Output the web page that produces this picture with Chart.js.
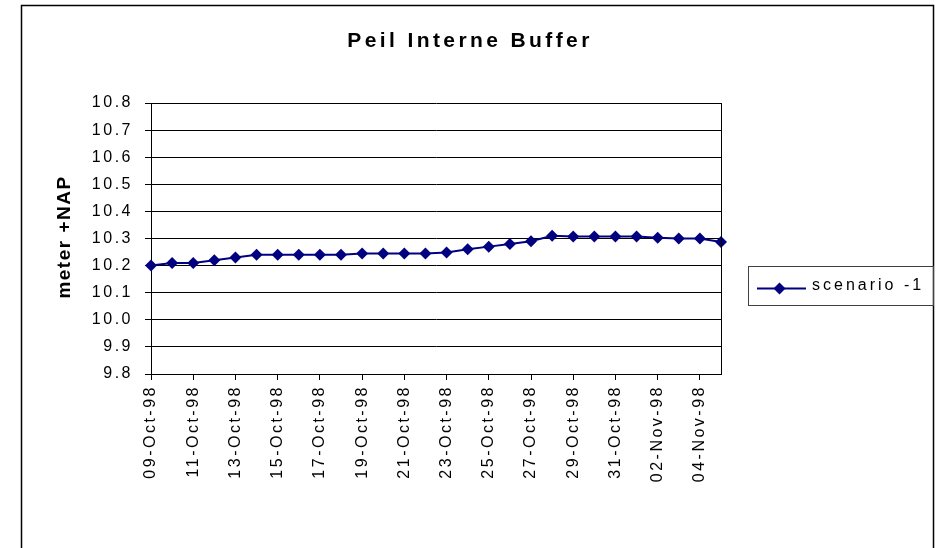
<!DOCTYPE html>
<html>
<head>
<meta charset="utf-8">
<script src="https://cdn.jsdelivr.net/npm/chart.js"></script>
<style>
  html, body { margin: 0; padding: 0; background: #fff; }
  #peilChart { display: block; }
</style>
</head>
<body>
<canvas id="peilChart" width="937" height="548"></canvas>
<script>
const dates = [
  "09-Oct-98", "10-Oct-98", "11-Oct-98", "12-Oct-98", "13-Oct-98", "14-Oct-98", "15-Oct-98",
  "16-Oct-98", "17-Oct-98", "18-Oct-98", "19-Oct-98", "20-Oct-98", "21-Oct-98", "22-Oct-98",
  "23-Oct-98", "24-Oct-98", "25-Oct-98", "26-Oct-98", "27-Oct-98", "28-Oct-98", "29-Oct-98",
  "30-Oct-98", "31-Oct-98", "01-Nov-98", "02-Nov-98", "03-Nov-98", "04-Nov-98", "05-Nov-98"
];

const scenario1 = [
  10.20, 10.21, 10.21, 10.22, 10.23, 10.24, 10.24,
  10.24, 10.24, 10.24, 10.245, 10.245, 10.245, 10.245,
  10.248, 10.26, 10.27, 10.28, 10.29, 10.31, 10.307,
  10.307, 10.307, 10.307, 10.303, 10.30, 10.30, 10.287
];

const yMin = 9.8;
const yMax = 10.8;
const yStep = 0.1;

const chartTitle = "Peil Interne Buffer";
const yTitle = "meter +NAP";
const seriesName = "scenario -1";

const navy = "#000080";
const fontFamily = "'Liberation Sans', Arial, sans-serif";

// frame, titles and the boxed legend, drawn the way the old spreadsheet did
const excelFrame = {
  id: "excelFrame",
  beforeDraw(chart) {
    const ctx = chart.ctx;
    ctx.save();
    ctx.fillStyle = "#fff";
    ctx.fillRect(0, 0, chart.width, chart.height);
    ctx.restore();
    ctx.letterSpacing = "2.5px";
  },
  afterDraw(chart) {
    const ctx = chart.ctx;
    const area = chart.chartArea;
    ctx.save();

    // outer border
    ctx.strokeStyle = "#000";
    ctx.lineWidth = 1.5;
    ctx.strokeRect(21.5, 5.5, 912, 600);

    // plot border (right side)
    ctx.lineWidth = 1;
    ctx.beginPath();
    ctx.moveTo(Math.round(area.right) + 0.5, area.top);
    ctx.lineTo(Math.round(area.right) + 0.5, area.bottom);
    ctx.stroke();

    // title
    ctx.fillStyle = "#000";
    ctx.font = "bold 21px " + fontFamily;
    ctx.letterSpacing = "3.4px";
    ctx.textAlign = "center";
    ctx.textBaseline = "alphabetic";
    ctx.fillText(chartTitle, 470, 47);

    // y axis title
    ctx.save();
    ctx.translate(65, 237);
    ctx.rotate(-Math.PI / 2);
    ctx.font = "bold 19px " + fontFamily;
    ctx.letterSpacing = "1.5px";
    ctx.textBaseline = "middle";
    ctx.fillText(yTitle, 0, 0);
    ctx.restore();

    // legend box
    ctx.strokeStyle = "#404040";
    ctx.lineWidth = 1;
    ctx.strokeRect(748.5, 266.5, 185, 39);
    const ds = chart.data.datasets[0];
    ctx.strokeStyle = ds.borderColor;
    ctx.lineWidth = 2;
    ctx.beginPath();
    ctx.moveTo(757, 288.5);
    ctx.lineTo(806, 288.5);
    ctx.stroke();
    ctx.fillStyle = ds.pointBackgroundColor;
    ctx.beginPath();
    ctx.moveTo(779.5, 282.5);
    ctx.lineTo(785.5, 288.5);
    ctx.lineTo(779.5, 294.5);
    ctx.lineTo(773.5, 288.5);
    ctx.closePath();
    ctx.fill();
    ctx.fillStyle = "#000";
    ctx.font = "16px " + fontFamily;
    ctx.letterSpacing = "3px";
    ctx.textAlign = "left";
    ctx.fillText(ds.label, 812, 290);

    ctx.restore();
  }
};

new Chart(document.getElementById("peilChart"), {
  type: "line",
  data: {
    labels: dates,
    datasets: [
      {
        label: seriesName,
        data: scenario1,
        borderColor: navy,
        borderWidth: 2,
        pointStyle: "rectRot",
        pointRadius: 6,
        pointBorderWidth: 0,
        pointBackgroundColor: navy,
        pointBorderColor: navy,
        tension: 0
      }
    ]
  },
  options: {
    responsive: false,
    devicePixelRatio: 1,
    animation: false,
    layout: {
      padding: { top: 103, right: 216, bottom: 0, left: 0 }
    },
    plugins: {
      legend: { display: false },
      title: { display: false },
      tooltip: { enabled: false }
    },
    scales: {
      x: {
        type: "category",
        offset: false,
        afterFit(scale) {
          scale.height = 174;
        },
        grid: {
          drawOnChartArea: false,
          drawTicks: true,
          tickLength: 6,
          color: (c) => (c.index % 2 === 0 ? "#000" : "rgba(0,0,0,0)")
        },
        border: { display: true, color: "#000", width: 1 },
        ticks: {
          autoSkip: false,
          minRotation: 90,
          maxRotation: 90,
          padding: 5,
          color: "#000",
          font: { family: fontFamily, size: 16 },
          callback: function (value, index) {
            return index % 2 === 0 ? this.getLabelForValue(value) : "";
          }
        }
      },
      y: {
        min: yMin,
        max: yMax,
        afterFit(scale) {
          scale.width = 151;
        },
        grid: {
          color: "#000",
          lineWidth: 1,
          tickLength: 6
        },
        border: { display: true, color: "#000", width: 1 },
        ticks: {
          stepSize: yStep,
          padding: 12,
          color: "#000",
          font: { family: fontFamily, size: 16 },
          callback: (v) => v.toFixed(1)
        }
      }
    }
  },
  plugins: [excelFrame]
});
</script>
</body>
</html>
